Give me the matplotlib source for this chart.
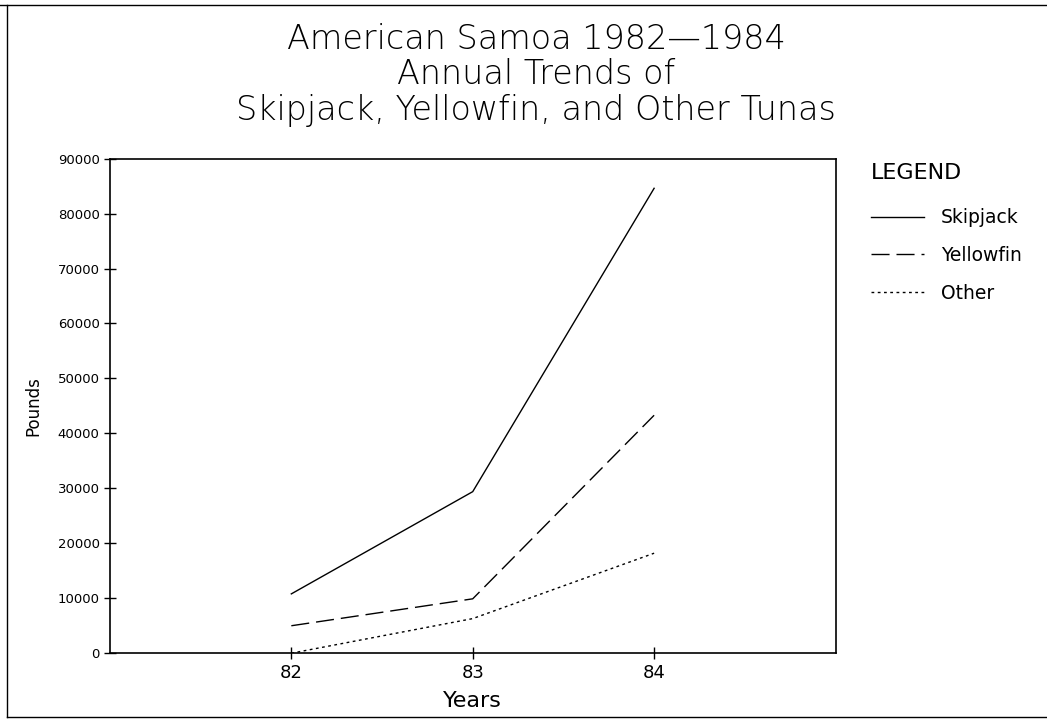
import matplotlib
matplotlib.use("Agg")
import matplotlib.pyplot as plt
from matplotlib.lines import Line2D

years = [82, 83, 84]
skipjack = [10800, 29400, 84600]
yellowfin = [5000, 9900, 43300]
other = [0, 6300, 18200]
yticks = list(range(0, 90001, 10000))

fig = plt.figure(figsize=(10.47, 7.21), dpi=100)
ax = fig.add_axes([0.105, 0.094, 0.693, 0.686])

ax.plot(years, skipjack, color="black", lw=1.0, label="Skipjack")
ax.plot(years, yellowfin, color="black", lw=1.0, linestyle=(0, (13, 5)), label="Yellowfin")
ax.plot(years, other, color="black", lw=1.0, linestyle=(0, (2, 2.5)), label="Other")

ax.set_xlim(81, 85)
ax.set_ylim(0, 90000)
ax.set_xticks(years)
ax.set_xticklabels([str(y) for y in years], fontsize=13)
ax.set_yticks(yticks)
ax.set_yticklabels([str(v) for v in yticks], fontsize=9.5)
ax.tick_params(direction="inout", length=8, width=1)
for s in ax.spines.values():
    s.set_linewidth(1.2)

ax.set_xlabel("Years", fontsize=16, labelpad=7)
ax.set_ylabel("Pounds", fontsize=12, labelpad=11)

fig.text(0.512, 0.945, "American Samoa 1982\u20141984", ha="center", va="center",
         fontsize=24, fontweight="light")
fig.text(0.512, 0.896, "Annual Trends of", ha="center", va="center",
         fontsize=24, fontweight="light")
fig.text(0.512, 0.847, "Skipjack, Yellowfin, and Other Tunas", ha="center", va="center",
         fontsize=24, fontweight="light")

leg = ax.legend(loc="upper left", bbox_to_anchor=(0.816, 0.797), bbox_transform=fig.transFigure,
                frameon=False, title="LEGEND", fontsize=13.5, title_fontsize=16,
                handlelength=2.8, handletextpad=0.9, labelspacing=1.0, alignment="left")
leg._legend_box.sep = 18

# page border
fig.add_artist(Line2D([0, 1], [0.993, 0.993], transform=fig.transFigure, color="black", lw=1))
fig.add_artist(Line2D([0.007, 0.007], [0.006, 0.993], transform=fig.transFigure, color="black", lw=1))
fig.add_artist(Line2D([0.007, 1], [0.006, 0.006], transform=fig.transFigure, color="black", lw=1))

fig.savefig("out.png", dpi=100)
